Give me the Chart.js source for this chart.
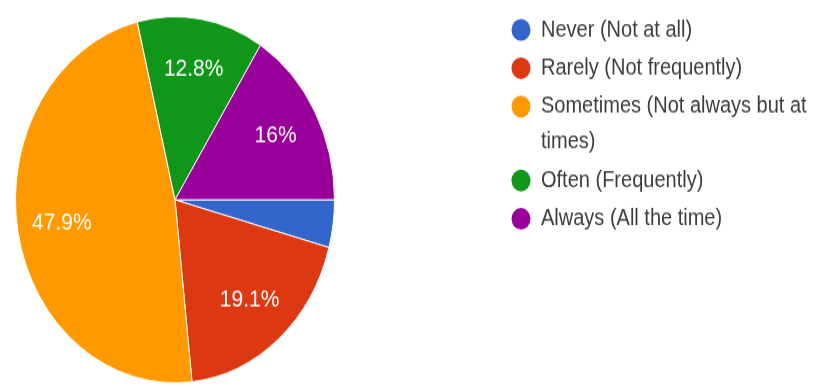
<!DOCTYPE html>
<html>
<head>
<meta charset="utf-8">
<script src="https://cdn.jsdelivr.net/npm/chart.js@4/dist/chart.umd.min.js"></script>
<style>
  html, body { margin: 0; padding: 0; background: #fff; }
  body { width: 830px; height: 387px; overflow: hidden; }
  #wrap { width: 830px; height: 337px; transform: scaleY(1.148); transform-origin: 0 0; }
</style>
</head>
<body>
<div id="wrap"><canvas id="pie" width="830" height="337"></canvas></div>
<script>
// data
const labels = ['Never (Not at all)', 'Rarely (Not frequently)', 'Sometimes (Not always but at times)', 'Often (Frequently)', 'Always (All the time)'];
const percents = [4.2, 19.1, 47.9, 12.8, 16];
const colors = ['#3366cc', '#dc3912', '#ff9900', '#109618', '#990099'];

// percent text inside the bigger slices
const sliceLabels = {
    id: 'sliceLabels',
    afterDatasetsDraw(chart) {
        const ctx = chart.ctx;
        const meta = chart.getDatasetMeta(0);
        ctx.save();
        ctx.font = '21px "Liberation Sans", Arial, sans-serif';
        ctx.fillStyle = '#fff';
        ctx.textAlign = 'center';
        ctx.textBaseline = 'middle';
        meta.data.forEach((arc, i) => {
            if (percents[i] < 5) return;
            const p = arc.getProps(['x', 'y', 'startAngle', 'endAngle', 'outerRadius'], true);
            const mid = (p.startAngle + p.endAngle) / 2;
            const r = p.outerRadius * 0.72;
            ctx.fillText(percents[i] + '%', p.x + Math.cos(mid) * r, p.y + Math.sin(mid) * r);
        });
        ctx.restore();
    }
};

// legend on the right, with wrapping of long labels
const sideLegend = {
    id: 'sideLegend',
    afterDraw(chart) {
        const ctx = chart.ctx;
        const x0 = 521, textX = 541, maxW = 285;
        let y = 26;
        ctx.save();
        ctx.font = '20px "Liberation Sans", Arial, sans-serif';
        ctx.textBaseline = 'middle';
        labels.forEach((lab, i) => {
            ctx.fillStyle = colors[i];
            ctx.beginPath();
            ctx.arc(x0, y, 9.5, 0, Math.PI * 2);
            ctx.fill();
            // word wrap
            const words = lab.split(' ');
            let line = '';
            const lines = [];
            words.forEach(w => {
                const test = line ? line + ' ' + w : w;
                if (ctx.measureText(test).width > maxW && line) {
                    lines.push(line);
                    line = w;
                } else {
                    line = test;
                }
            });
            lines.push(line);
            ctx.fillStyle = '#3c3c3c';
            lines.forEach((l, j) => {
                ctx.fillText(l, textX, y + j * 31);
            });
            y += 33.4 + (lines.length - 1) * 31;
        });
        ctx.restore();
    }
};

new Chart(document.getElementById('pie'), {
    type: 'pie',
    data: {
        labels: labels,
        datasets: [{
            data: percents,
            backgroundColor: colors,
            borderColor: '#fff',
            borderWidth: 1
        }]
    },
    options: {
        responsive: false,
        animation: false,
        rotation: 90,
        layout: {
            padding: { left: 15, top: 14, right: 495, bottom: 3 }
        },
        plugins: {
            legend: { display: false },
            tooltip: { enabled: false }
        }
    },
    plugins: [sliceLabels, sideLegend]
});
</script>
</body>
</html>
